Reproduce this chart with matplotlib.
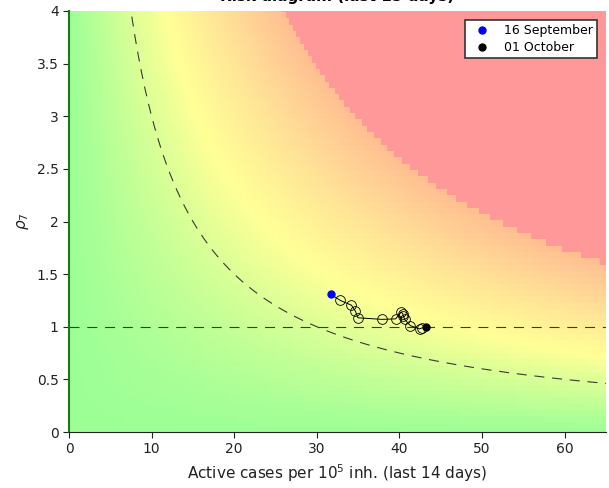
import numpy as np
import matplotlib
matplotlib.use("Agg")
import matplotlib.pyplot as plt
from matplotlib.colors import LinearSegmentedColormap

# Trajectory (active cases per 1e5 inh., rho_7)
cases = [31.7, 32.85, 34.18, 34.67, 34.98, 37.93, 39.54, 40.2, 40.39, 40.45, 40.63, 41.32, 42.44, 42.77, 43.25]
rho7 = [1.307, 1.25, 1.205, 1.148, 1.085, 1.07, 1.075, 1.14, 1.125, 1.105, 1.07, 1.01, 0.98, 0.99, 1.0]
start_label = "16 September"
end_label = "01 October"
title = "Risk diagram (last 15 days)"
risk_curve_level = 30
risk_max = 104

fig = plt.figure(figsize=(6.09, 4.88), dpi=100)
ax = fig.add_axes([69/609, 1-432/488, (606-69)/609, (432-11)/488])

# Background risk map
xg = np.linspace(0, 65, 400)
yg = np.arange(0, 4.06, 0.06)
X, Y = np.meshgrid(xg, yg)
R = X * Y
cm = LinearSegmentedColormap.from_list("risk", [
    (0.0, (155/255, 1.0, 150/255)),
    (0.45, (1.0, 1.0, 150/255)),
    (0.75, (1.0, 220/255, 150/255)),
    (1.0, (1.0, 190/255, 145/255)),
])
cm.set_over((1.0, 152/255, 152/255))
ax.pcolormesh(X, Y, R, cmap=cm, vmin=0, vmax=risk_max, shading="nearest", rasterized=True)

# Reference lines
xc = np.linspace(0.5, 65, 500)
ax.plot(xc, risk_curve_level / xc, ls=(0, (9, 7)), color="#3a3a30", lw=0.8)
ax.axhline(1, ls=(0, (9, 7)), color="#3a3a30", lw=0.8)

# Trajectory
ax.plot(cases, rho7, color="black", lw=0.7)
ax.plot(cases[1:-1], rho7[1:-1], ls="none", marker="o", ms=7, mfc="none", mec="black", mew=0.6)
ax.plot(cases[0], rho7[0], "o", color="blue", ms=5, ls="none", label=start_label)
ax.plot(cases[-1], rho7[-1], "o", color="black", ms=5, ls="none", label=end_label)

ax.set_xlim(0, 65)
ax.set_ylim(0, 4)
ax.set_xticks([0, 10, 20, 30, 40, 50, 60])
ax.set_yticks([0, 0.5, 1, 1.5, 2, 2.5, 3, 3.5, 4])
ax.set_yticklabels(["0", "0.5", "1", "1.5", "2", "2.5", "3", "3.5", "4"])
ax.tick_params(direction="out", length=4, labelsize=10, colors="#222222")
for s in ["top", "right"]:
    ax.spines[s].set_visible(False)
ax.spines["bottom"].set_color("#222222")
ax.spines["left"].set_color("#1a7a1a")
ax.spines["left"].set_linewidth(1.5)

ax.set_xlabel("Active cases per $10^5$ inh. (last 14 days)", fontsize=11, color="#222222")
ax.set_ylabel(r"$\rho_7$", fontsize=11, color="#222222")

leg = ax.legend(loc="upper right", fontsize=9, frameon=True, fancybox=False,
                handletextpad=0.8, borderpad=0.35, labelspacing=0.3, borderaxespad=0.7)
leg.get_frame().set_edgecolor("#333333")
leg.get_frame().set_linewidth(1.2)
leg.get_frame().set_alpha(1)

fig.text((69+606)/2/609, 1 + 4/488, title, ha="center", va="center", fontsize=11, weight="bold")

fig.savefig("out.png", dpi=100)
